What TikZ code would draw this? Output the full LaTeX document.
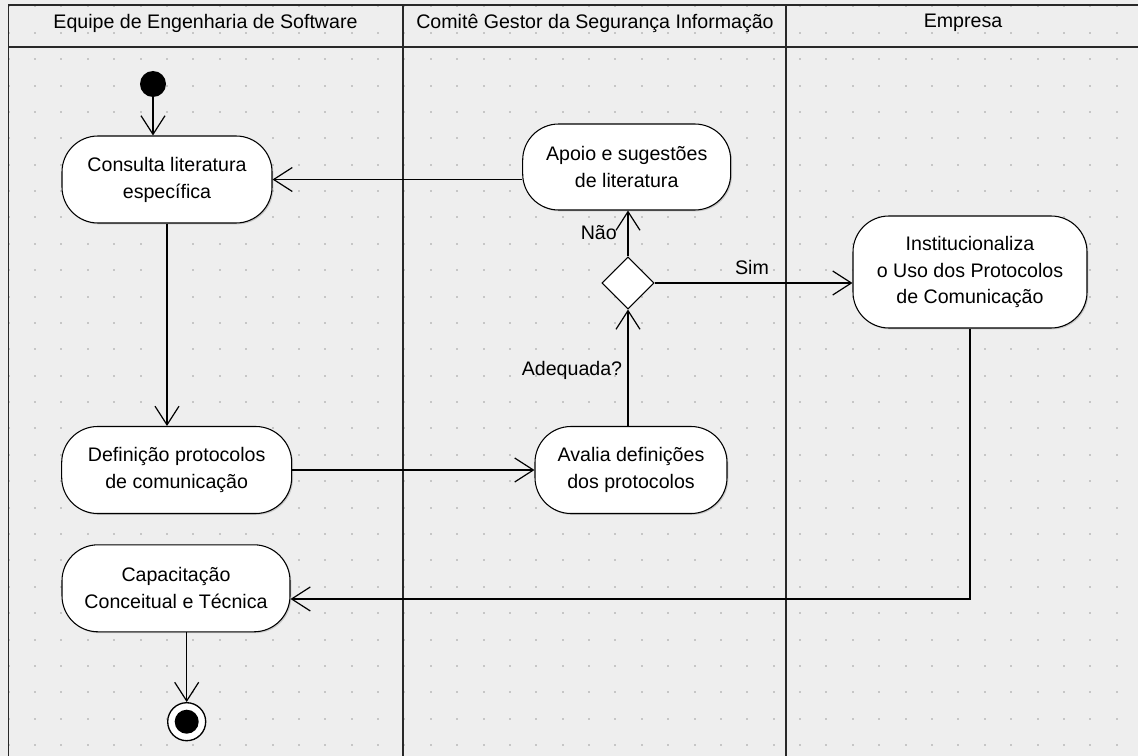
\documentclass[tikz,border=0pt]{standalone}
\usepackage{fontspec}
\setmainfont{Liberation Sans}
\usetikzlibrary{arrows.meta,shapes.geometric,shadows,calc}
\definecolor{bg}{RGB}{238,238,238}
\definecolor{dotc}{RGB}{198,198,198}
\definecolor{lanec}{RGB}{40,40,40}
\begin{document}
\begin{tikzpicture}[x=0.75pt,y=-0.75pt,
  font=\fontsize{14.7}{20.2}\selectfont,
  act/.style={draw=black, line width=0.8pt, fill=white, rounded corners=27pt,
    align=center, inner sep=0pt,
    drop shadow={shadow xshift=1pt,shadow yshift=-1pt,opacity=0.35}},
  arr/.style={line width=0.9pt, -{Straight Barb[length=14pt,width=18pt]}},
  lanel/.style={line width=1.4pt, draw=lanec},
  lbl/.style={inner sep=0pt}]

\useasboundingbox (0,0) rectangle (1138,756);
\fill[bg] (0,0) rectangle (1138,756);
\foreach \i in {0,...,42}{
  \foreach \j in {0,...,28}{
    \fill[dotc] ({7.7+26.38*\i},{5.4+26.38*\j}) rectangle ++(2,2);
  }
}

% swimlanes
\draw[lanel] (1138,5) -- (8.5,5) -- (8.5,756);
\draw[lanel] (8.5,46.7) -- (1138,46.7);
\draw[lanel] (403,5) -- (403,756);
\draw[lanel] (786,5) -- (786,756);

\node[lbl] (h1) at (205.5,23) {Equipe de Engenharia de Software};
\node[lbl] (h2) at (595,23) {Comitê Gestor da Segurança Informação};
\node[lbl] (h3) at (963,23) {Empresa};

% nodes
\node[circle, fill=black, minimum size=19.5pt, inner sep=0pt] (start) at (153,84) {};
\node[act, minimum width=157.5pt, minimum height=65.25pt] (consulta) at (167,179.5)
  {Consulta literatura\\específica};
\node[act, minimum width=156pt, minimum height=64.5pt] (apoio) at (626.7,167)
  {Apoio e sugestões\\de literatura};
\node[diamond, draw=black, fill=white, line width=0.8pt, minimum width=39pt,
  minimum height=39pt, inner sep=0pt] (dec) at (628,283) {};
\node[act, minimum width=175.5pt, minimum height=84pt] (inst) at (970,272)
  {Institucionaliza\\o Uso dos Protocolos\\de Comunicação};
\node[act, minimum width=172.5pt, minimum height=65.25pt] (defin) at (176.7,470)
  {Definição protocolos\\de comunicação};
\node[act, minimum width=144pt, minimum height=65.25pt] (avalia) at (631,470)
  {Avalia definições\\dos protocolos};
\node[act, minimum width=171pt, minimum height=65.25pt] (capac) at (176,588.3)
  {Capacitação\\Conceitual e Técnica};
\node[circle, draw=black, fill=white, line width=1pt, minimum size=28.5pt,
  inner sep=0pt] (end) at (186.7,721.7) {};
\node[circle, fill=black, minimum size=18pt, inner sep=0pt] (endin) at (end) {};

% connectors
\draw[arr] (start) -- (start |- consulta.north);
\draw[arr] (apoio.west |- consulta.east) -- (consulta.east);
\draw[arr] (consulta.south) -- (consulta.south |- defin.north);
\draw[arr] (defin.east) -- (avalia.west);
\draw[arr] (avalia.north -| dec.south) -- (dec.south);
\draw[arr] (dec.north) -- (dec.north |- apoio.south);
\draw[arr] (dec.east) -- (dec.east -| inst.west);
\draw[arr] (inst.south) |- ([yshift=-8pt]capac.east);
\draw[arr] (capac.south -| end.north) -- (end.north);

% labels
\node[lbl, anchor=east] (nao) at (617,233) {Não};
\node[lbl] (sim) at (752,267) {Sim};
\node[lbl] (adeq) at (572,370) {Adequada?};
\end{tikzpicture}
\end{document}
